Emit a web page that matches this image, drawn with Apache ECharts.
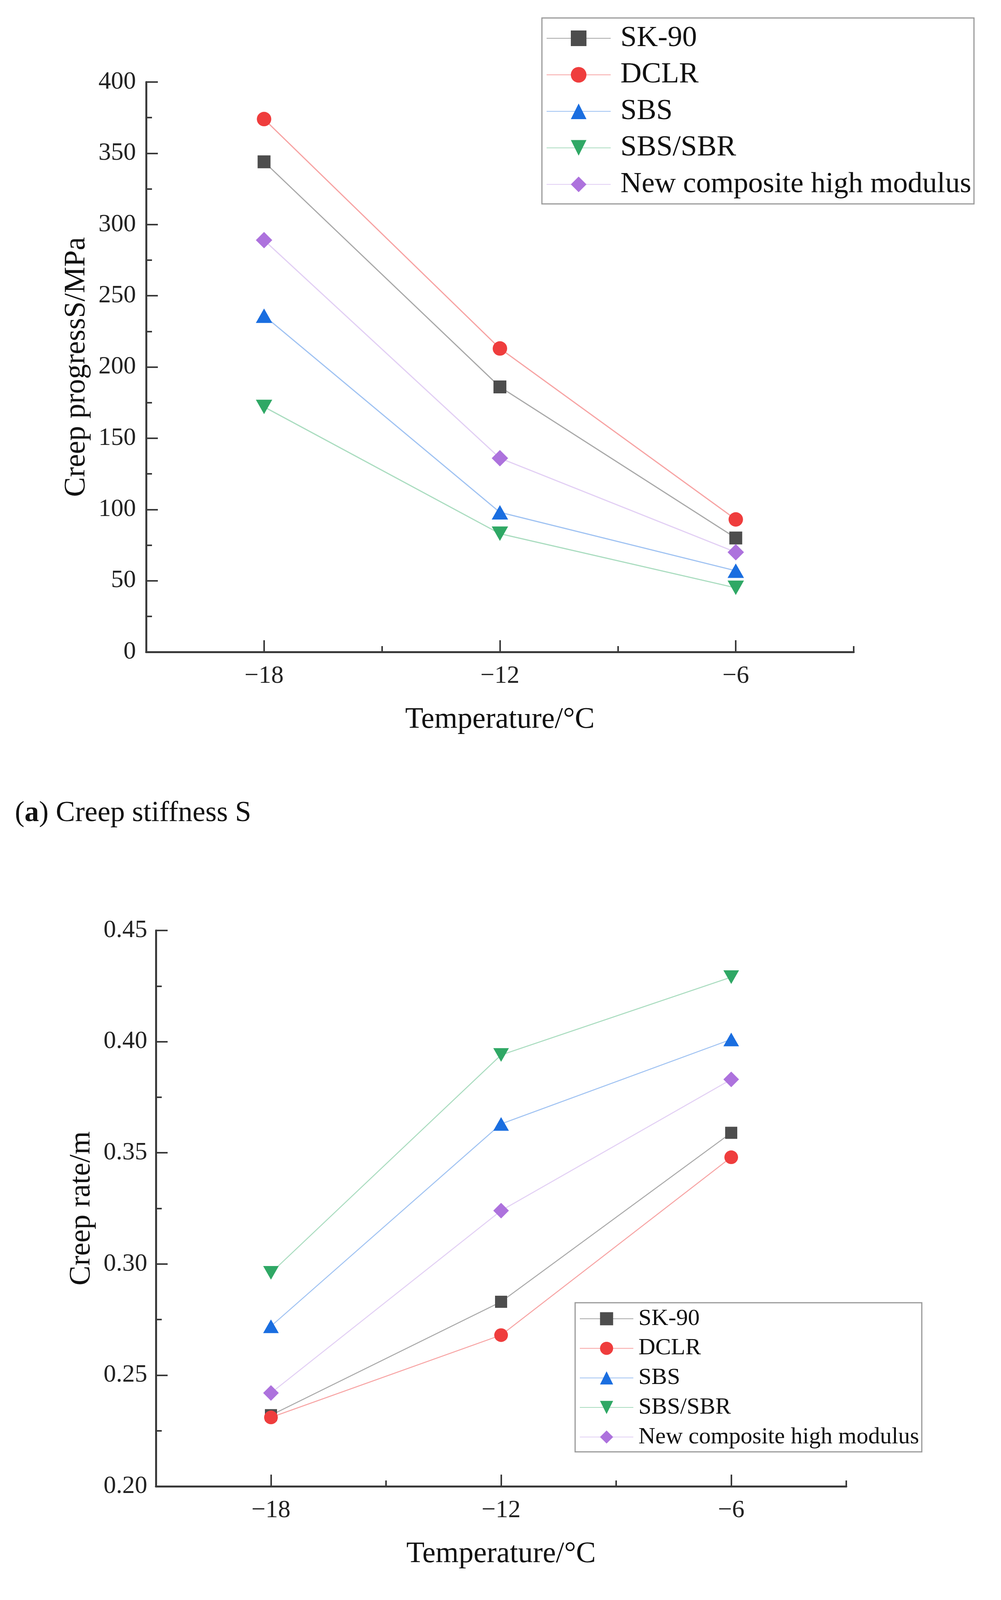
<!DOCTYPE html>
<html>
<head>
<meta charset="utf-8">
<script src="https://cdn.jsdelivr.net/npm/echarts@6/dist/echarts.min.js"></script>
<style>
  html, body { margin: 0; padding: 0; background: #fff; }
  #chart { width: 2562px; height: 4307px; }
</style>
</head>
<body>
<div id="chart"></div>
<script>
// temperatures (°C)
var temps = [-18, -12, -6];
var names = ['SK-90', 'DCLR', 'SBS', 'SBS/SBR', 'New composite high modulus'];

// (a) creep stiffness S, MPa
var sk90S = [344, 186, 80];
var dclrS = [374, 213, 93];
var sbsS = [236, 98, 57];
var sbsSbrS = [172, 83, 45];
var newS = [289, 136, 70];

// (b) m value
var sk90M = [0.232, 0.283, 0.359];
var dclrM = [0.231, 0.268, 0.348];
var sbsM = [0.272, 0.363, 0.401];
var sbsSbrM = [0.296, 0.394, 0.429];
var newM = [0.242, 0.324, 0.383];

var xTicks = [-18, -12, -6];

var FONT = 'Liberation Serif';
var markColors = ['#4d4d4d', '#ef3d3d', '#1a6ee0', '#2fa865', '#ad72dd'];
var lineColors = ['#a8a8a8', '#f7a3a3', '#9fc2f2', '#a9dcbf', '#e2cff4'];
var symbols = ['rect', 'circle', 'triangle', 'triangle', 'diamond'];
var rotates = [0, 0, 0, 180, 0];
var sizesA = [33, 37, [42, 37], [42, 37], [42, 42]];
var sizesB = [31, 35, [40, 35], [40, 35], [40, 40]];

function minus(v) {
    return v < 0 ? '\u2212' + (-v) : String(v);
}

function pairs(arr) {
    return temps.map(function (t, i) { return [t, arr[i]]; });
}

function makeSeries(list, axisIdx, sizes, lw) {
    return list.map(function (arr, k) {
        return {
            name: names[k],
            type: 'line',
            xAxisIndex: axisIdx,
            yAxisIndex: axisIdx,
            data: pairs(arr),
            symbol: symbols[k],
            symbolRotate: rotates[k],
            symbolSize: sizes[k],
            showSymbol: true,
            animation: false,
            lineStyle: { color: lineColors[k], width: lw },
            itemStyle: { color: markColors[k] },
            z: 3
        }
    })
}

var axisLine = { show: true, onZero: false, lineStyle: { color: '#3a3a3a', width: 5 } };
var tickStyle = { color: '#3a3a3a', width: 4 };

function mainX(grid) {
    return {
        gridIndex: grid, type: 'value', min: -21, max: -3, interval: 3,
        axisLine: axisLine,
        axisTick: { show: true, inside: true, length: 15, lineStyle: tickStyle },
        axisLabel: {
            margin: 30, fontFamily: FONT, fontSize: 64, color: '#222',
            formatter: function (v) { return xTicks.indexOf(v) >= 0 ? minus(v) : ''; }
        },
        splitLine: { show: false },
        name: 'Temperature/\u00b0C', nameLocation: 'middle', nameGap: 136,
        nameTextStyle: { fontFamily: FONT, fontSize: 76, color: '#111' }
    }
}

function overlayX(grid) {
    return {
        gridIndex: grid, type: 'value', min: -21, max: -3,
        axisLine: { show: false, onZero: false },
        axisTick: { show: true, inside: true, length: 30, customValues: xTicks, lineStyle: tickStyle },
        axisLabel: { show: false },
        splitLine: { show: false }
    }
}

var option = {
    backgroundColor: '#fff',
    title: [{
        text: '({b|a}) Creep stiffness S',
        left: 38, top: 2046, padding: 0,
        textStyle: {
            fontFamily: FONT, fontSize: 74, fontWeight: 'normal', color: '#111',
            rich: { b: { fontFamily: FONT, fontSize: 74, fontWeight: 'bold', color: '#111' } }
        }
    }, {
        text: '({b|b}) m value',
        left: 38, top: 4174, padding: 0,
        textStyle: {
            fontFamily: FONT, fontSize: 74, fontWeight: 'normal', color: '#111',
            rich: { b: { fontFamily: FONT, fontSize: 74, fontWeight: 'bold', color: '#111' } }
        }
    }],
    legend: [{
        data: names,
        orient: 'vertical',
        left: 1387, top: 46,
        padding: [12, 7, 10, 11],
        itemWidth: 164, itemHeight: 50, itemGap: 13.5,
        borderColor: '#999', borderWidth: 3,
        backgroundColor: '#fff',
        textStyle: { fontFamily: FONT, fontSize: 75, lineHeight: 80, color: '#111', padding: [0, 0, 0, 20] }
    }, {
        data: names,
        orient: 'vertical',
        left: 1472, top: 3335,
        padding: [9, 7, 6, 11],
        itemWidth: 137, itemHeight: 42, itemGap: 11.7,
        borderColor: '#999', borderWidth: 3,
        backgroundColor: '#fff',
        textStyle: { fontFamily: FONT, fontSize: 60, lineHeight: 64, color: '#111', padding: [0, 0, 0, 8] }
    }],
    grid: [
        { left: 374, top: 210, width: 1811, height: 1459, containLabel: false },
        { left: 374, top: 210, width: 1811, height: 1459, containLabel: false },
        { left: 399, top: 2382, width: 1767, height: 1423, containLabel: false },
        { left: 399, top: 2382, width: 1767, height: 1423, containLabel: false }
    ],
    xAxis: [mainX(0), overlayX(1), mainX(2), overlayX(3)],
    yAxis: [{
        gridIndex: 0, type: 'value', min: 0, max: 400, interval: 25,
        axisLine: axisLine,
        axisTick: { show: true, inside: true, length: 15, lineStyle: tickStyle },
        axisLabel: {
            margin: 26, fontFamily: FONT, fontSize: 64, color: '#222',
            formatter: function (v) { return v % 50 === 0 ? String(v) : ''; }
        },
        splitLine: { show: false },
        name: 'Creep progressS/MPa', nameLocation: 'middle', nameGap: 140,
        nameTextStyle: { fontFamily: FONT, fontSize: 76, color: '#111' }
    }, {
        gridIndex: 1, type: 'value', min: 0, max: 400, interval: 50,
        axisLine: { show: false, onZero: false },
        axisTick: { show: true, inside: true, length: 30, lineStyle: tickStyle },
        axisLabel: { show: false },
        splitLine: { show: false }
    }, {
        gridIndex: 2, type: 'value', min: 0.2, max: 0.45, interval: 0.025,
        axisLine: axisLine,
        axisTick: { show: true, inside: true, length: 15, lineStyle: tickStyle },
        axisLabel: {
            margin: 22, fontFamily: FONT, fontSize: 64, color: '#222',
            formatter: function (v) { return Math.round(v * 1000) % 50 === 0 ? v.toFixed(2) : ''; }
        },
        splitLine: { show: false },
        name: 'Creep rate/m', nameLocation: 'middle', nameGap: 152,
        nameTextStyle: { fontFamily: FONT, fontSize: 76, color: '#111' }
    }, {
        gridIndex: 3, type: 'value', min: 0.2, max: 0.45, interval: 0.05,
        axisLine: { show: false, onZero: false },
        axisTick: { show: true, inside: true, length: 30, lineStyle: tickStyle },
        axisLabel: { show: false },
        splitLine: { show: false }
    }],
    series: makeSeries([sk90S, dclrS, sbsS, sbsSbrS, newS], 0, sizesA, 3)
        .concat(makeSeries([sk90M, dclrM, sbsM, sbsSbrM, newM], 2, sizesB, 2.5))
};

var chart = echarts.init(document.getElementById('chart'));
chart.setOption(option);
</script>
</body>
</html>
